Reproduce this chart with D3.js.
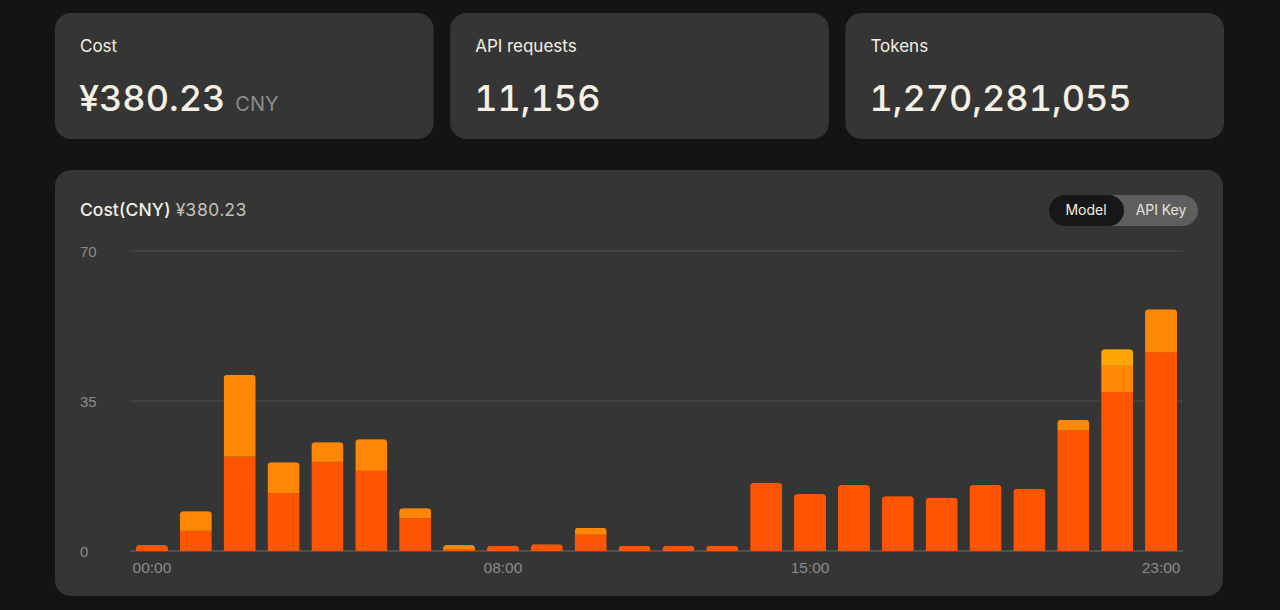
<!DOCTYPE html>
<html>
<head>
<meta charset="utf-8">
<script src="https://cdn.jsdelivr.net/npm/d3@7"></script>
<style>
  html, body { margin: 0; padding: 0; background: #141414; }
  svg { display: block; font-family: Inter, "Noto Sans", sans-serif; font-variant-numeric: tabular-nums; }
</style>
</head>
<body>
<div id="wrapper"></div>
<script>
// hourly cost, stacked by model (CNY)
const hours = d3.range(24).map(h => String(h).padStart(2, "0") + ":00");
const modelA = [1.4, 4.7, 22.0, 13.5, 20.8, 18.7, 7.6, 0.3, 1.2, 1.6, 3.8, 1.2, 1.2, 1.2, 15.9, 13.3, 15.4, 12.8, 12.4, 15.4, 14.5, 28.1, 37.1, 46.4];
const modelB = [0, 4.6, 19.1, 7.2, 4.6, 7.4, 2.4, 1.1, 0, 0, 1.6, 0, 0, 0, 0, 0, 0, 0, 0, 0, 0, 2.5, 6.1, 10.0];
const modelC = [0, 0, 0, 0, 0, 0, 0, 0, 0, 0, 0, 0, 0, 0, 0, 0, 0, 0, 0, 0, 0, 0, 3.9, 0];
const seriesColors = ["#ff5500", "#ff8705", "#ffa505"];
const yTicks = [0, 35, 70];
const xTickLabels = ["00:00", "08:00", "15:00", "23:00"];

const cards = [
  { label: "Cost", value: "¥380.23", unit: "CNY" },
  { label: "API requests", value: "11,156", unit: "" },
  { label: "Tokens", value: "1,270,281,055", unit: "" }
];

function build() {
  const width = 1280, height = 610;
  const cream = "#f4f0e4", grey = "#8c8c8c", cardFill = "#353535";

  const svg = d3.select("#wrapper").append("svg")
    .attr("width", width).attr("height", height);

  // top stat cards
  const cardX = d3.scaleBand().domain(d3.range(cards.length)).range([55, 1224]).paddingInner(0.042);
  const card = svg.selectAll("g.card").data(cards).enter().append("g")
    .attr("class", "card")
    .attr("transform", (d, i) => `translate(${cardX(i)},13)`);
  card.append("rect").attr("width", cardX.bandwidth()).attr("height", 126)
    .attr("rx", 16).attr("fill", cardFill);
  card.append("text").attr("x", 25).attr("y", 39).attr("font-size", 17)
    .attr("fill", cream).text(d => d.label);
  const big = card.append("text").attr("x", 24).attr("y", 98).attr("fill", cream);
  big.append("tspan").attr("font-size", 36).attr("font-weight", 450).text(d => d.value);
  big.append("tspan").attr("font-size", 20).attr("fill", grey).attr("dx", 10)
    .text(d => d.unit);

  // chart card
  const chart = svg.append("g").attr("transform", "translate(55,170)");
  chart.append("rect").attr("width", 1168).attr("height", 426).attr("rx", 16).attr("fill", cardFill);

  const title = svg.append("text").attr("x", 80).attr("y", 216).attr("font-size", 17.5);
  title.append("tspan").attr("fill", cream).attr("font-weight", 500).text("Cost(CNY)");
  title.append("tspan").attr("fill", "#c4c0b6").attr("dx", 5).text("¥380.23");

  // toggle
  svg.append("rect").attr("x", 1049).attr("y", 195).attr("width", 149).attr("height", 31)
    .attr("rx", 15.5).attr("fill", "#5e5e5e");
  svg.append("rect").attr("x", 1049).attr("y", 195).attr("width", 75).attr("height", 31)
    .attr("rx", 15.5).attr("fill", "#171717");
  svg.append("text").attr("x", 1086).attr("y", 215).attr("text-anchor", "middle")
    .attr("font-size", 14).attr("fill", cream).text("Model");
  svg.append("text").attr("x", 1161).attr("y", 215).attr("text-anchor", "middle")
    .attr("font-size", 14).attr("fill", "#e6e2d8").text("API Key");

  // scales
  const x = d3.scaleBand().domain(hours).range([130, 1183]).paddingInner(0.27).paddingOuter(0.135);
  const y = d3.scaleLinear().domain([0, 70]).range([551, 251]);

  // grid
  svg.append("g").selectAll("line").data(yTicks).enter().append("line")
    .attr("x1", 130).attr("x2", 1183)
    .attr("y1", d => y(d)).attr("y2", d => y(d))
    .attr("stroke", d => d === 0 ? "#6b6b6b" : "#4e4e4e").attr("stroke-width", 1);

  const yAxis = d3.axisLeft(y).tickValues(yTicks).tickSize(0).tickPadding(0);
  const gy = svg.append("g").attr("transform", "translate(80,0)").call(yAxis);
  gy.select(".domain").remove();
  gy.selectAll("text").attr("text-anchor", "start").attr("font-size", 15)
    .attr("fill", grey).attr("font-family", null).attr("dy", "0.35em");

  const xAxis = d3.axisBottom(x).tickValues(xTickLabels).tickSize(0).tickPadding(0);
  const gx = svg.append("g").attr("transform", "translate(0,561)").call(xAxis);
  gx.select(".domain").remove();
  gx.selectAll("text").attr("font-size", 15.5).attr("fill", grey)
    .attr("font-family", null).attr("dy", "0.75em");

  // stacked bars
  const table = hours.map((h, i) => ({ hour: h, a: modelA[i], b: modelB[i], c: modelC[i] }));
  const stack = d3.stack().keys(["a", "b", "c"])(table);

  const defs = svg.append("defs");
  defs.selectAll("clipPath").data(table).enter().append("clipPath")
    .attr("id", (d, i) => "clip" + i)
    .append("rect")
    .attr("x", d => x(d.hour))
    .attr("width", x.bandwidth())
    .attr("y", d => y(d.a + d.b + d.c))
    .attr("height", d => y(0) - y(d.a + d.b + d.c) + 6)
    .attr("rx", 4);

  const layers = svg.append("g").selectAll("g").data(stack).enter().append("g")
    .attr("fill", (d, i) => seriesColors[i]);
  layers.selectAll("rect").data(d => d).enter().append("rect")
    .attr("clip-path", (d, i) => `url(#clip${i})`)
    .attr("x", d => x(d.data.hour))
    .attr("width", x.bandwidth())
    .attr("y", d => y(d[1]))
    .attr("height", d => Math.max(0, y(d[0]) - y(d[1])));
}

build();
</script>
</body>
</html>
